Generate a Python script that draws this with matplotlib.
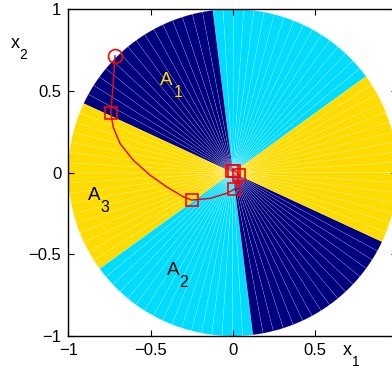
import numpy as np
import matplotlib
matplotlib.use("Agg")
import matplotlib.pyplot as plt
from matplotlib.patches import Wedge

plt.rcParams["font.family"] = ["Liberation Sans", "DejaVu Sans"]

# sector boundaries (degrees, counter-clockwise) and fill colours
sector_edges = [36, 97, 155, 216, 277, 335, 396]
sector_colors = ["#00dcff", "#00007f", "#ffdc00", "#00dcff", "#00007f", "#ffdc00"]

# trajectory
traj_x = [-0.716, -0.722, -0.730, -0.741, -0.727, -0.686, -0.605, -0.504, -0.402,
          -0.301, -0.250, -0.139, -0.038, 0.007, 0.023, 0.033, 0.040, 0.010, -0.005]
traj_y = [0.714, 0.62, 0.50, 0.366, 0.280, 0.179, 0.076, -0.015, -0.087,
          -0.148, -0.168, -0.158, -0.127, -0.103, -0.087, -0.034, -0.015, 0.012, 0.010]
square_x = [-0.741, -0.250, 0.007, 0.040, 0.010, -0.005]
square_y = [0.366, -0.168, -0.103, -0.015, 0.012, 0.010]
start_x, start_y = -0.716, 0.714

region_names = ["A", "A", "A"]
region_subs = ["1", "2", "3"]
label_x = [-0.402, -0.364, -0.844]
label_y = [0.535, -0.627, -0.168]
label_colors = ["#ffdc00", "black", "black"]


def sub_text(ax, x, y, main, sub, size, subsize, dx, drop, color="black"):
    # main letter centred on x with its baseline at y, subscript to its lower right
    ax.annotate(main, (x, y), xycoords="data", ha="center", va="baseline",
                fontsize=size, color=color, annotation_clip=False)
    ax.annotate(sub, (x, y), xycoords="data", xytext=(dx, -drop),
                textcoords="offset points", ha="left", va="baseline",
                fontsize=subsize, color=color, annotation_clip=False)


fig = plt.figure(figsize=(3.92, 3.81), dpi=100)
ax = fig.add_axes([0.174, 0.118, 0.84, 0.858])

for a0, a1, c in zip(sector_edges[:-1], sector_edges[1:], sector_colors):
    steps = np.linspace(a0, a1, int(round((a1 - a0) / 3.6)) + 1)
    for s0, s1 in zip(steps[:-1], steps[1:]):
        ax.add_patch(Wedge((0, 0), 1.0, s0, s1, facecolor=c,
                           edgecolor=(1, 1, 1, 0.22), linewidth=0.4))

ax.plot(traj_x, traj_y, color="#e01010", linewidth=1.1)
ax.plot(square_x, square_y, linestyle="none", marker="s", markersize=8,
        markerfacecolor="none", markeredgecolor="#ff0000", markeredgewidth=1.2)
ax.plot([start_x], [start_y], linestyle="none", marker="o", markersize=10,
        markerfacecolor="none", markeredgecolor="#ff0000", markeredgewidth=1.2)

for m, s, x, y, c in zip(region_names, region_subs, label_x, label_y, label_colors):
    sub_text(ax, x, y, m, s, 13.5, 11.5, 4.8, 8.4, c)

ax.set_xlim(-1, 1)
ax.set_ylim(-1, 1)
ticks = [-1, -0.5, 0, 0.5, 1]
tick_text = ["\u22121", "\u22120.5", "0", "0.5", "1"]
ax.set_xticks(ticks)
ax.set_xticklabels(tick_text)
ax.set_yticks(ticks)
ax.set_yticklabels(tick_text)
ax.tick_params(direction="in", length=4, width=0.8, labelsize=12,
               top=True, right=True, pad=5)
for sp in ax.spines.values():
    sp.set_linewidth(1.0)

# axis labels x1 and x2
sub_text(ax, 0.696, -1.116, "x", "1", 13, 10, 3.5, 8.0)
sub_text(ax, -1.324, 0.760, "x", "2", 13, 10, 3.5, 8.0)

fig.savefig("out.png", dpi=100)
